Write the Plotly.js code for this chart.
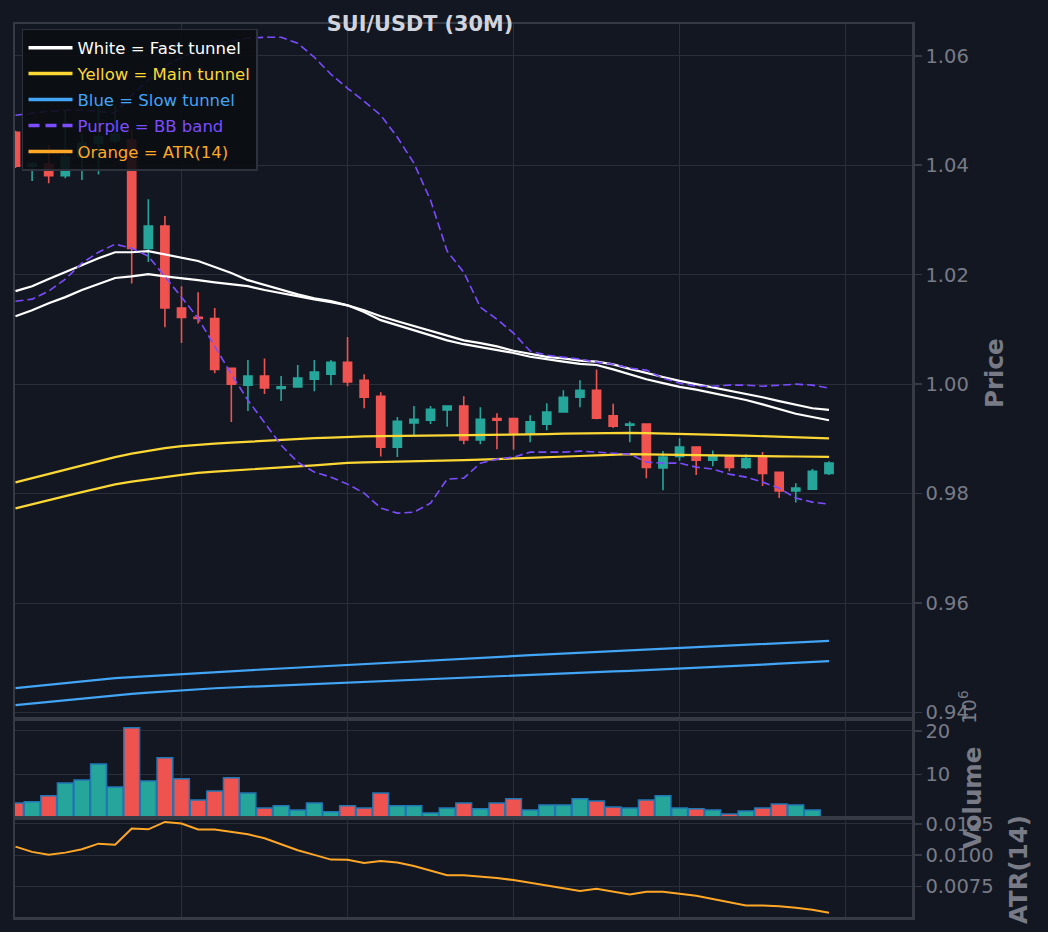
<!DOCTYPE html>
<html>
<head>
<meta charset="utf-8">
<script src="https://cdn.plot.ly/plotly-3.0.1.min.js"></script>
<style>
  html, body { margin: 0; padding: 0; background: #131722; }
  #chart { width: 1048px; height: 932px; }
</style>
</head>
<body>
<div id="chart"></div>
<script>
/* ---------------- data (30M candles) ---------------- */

var open  = [1.0460, 1.0398, 1.0402, 1.0381, 1.0415, 1.0440, 1.0445, 1.0446, 1.0248, 1.0289,
             1.0139, 1.0122, 1.0120, 1.0029, 0.9998, 1.0015, 0.9992, 0.9995, 1.0009, 1.0018,
             1.0040, 1.0007, 0.9978, 0.9885, 0.9929, 0.9934, 0.9953, 0.9960, 0.9898, 0.9937,
             0.9937, 0.9911, 0.9927, 0.9949, 0.9976, 0.9989, 0.9942, 0.9925, 0.9927, 0.9847,
             0.9868, 0.9885, 0.9861, 0.9868, 0.9848, 0.9867, 0.9839, 0.9805, 0.9808, 0.9837];
var high  = [1.0463, 1.0406, 1.0437, 1.0499, 1.0460, 1.0508, 1.0508, 1.0466, 1.0338, 1.0307,
             1.0179, 1.0168, 1.0139, 1.0030, 1.0044, 1.0047, 1.0015, 1.0035, 1.0044, 1.0044,
             1.0086, 1.0018, 0.9985, 0.9940, 0.9960, 0.9960, 0.9961, 0.9978, 0.9958, 0.9947,
             0.9938, 0.9943, 0.9965, 0.9989, 1.0007, 1.0027, 0.9964, 0.9932, 0.9927, 0.9878,
             0.9901, 0.9885, 0.9879, 0.9868, 0.9872, 0.9876, 0.9840, 0.9819, 0.9845, 0.9859];
var low   = [1.0395, 1.0371, 1.0367, 1.0376, 1.0373, 1.0383, 1.0440, 1.0184, 1.0223, 1.0104,
             1.0075, 1.0111, 1.0020, 0.9931, 0.9951, 0.9982, 0.9969, 0.9995, 0.9987, 0.9998,
             0.9996, 0.9956, 0.9868, 0.9867, 0.9907, 0.9927, 0.9922, 0.9890, 0.9890, 0.9881,
             0.9880, 0.9894, 0.9916, 0.9948, 0.9958, 0.9936, 0.9920, 0.9894, 0.9828, 0.9806,
             0.9860, 0.9834, 0.9850, 0.9841, 0.9845, 0.9814, 0.9792, 0.9784, 0.9808, 0.9834];
var close = [1.0398, 1.0403, 1.0381, 1.0415, 1.0440, 1.0452, 1.0457, 1.0248, 1.0289, 1.0139,
             1.0122, 1.0120, 1.0027, 1.0000, 1.0015, 0.9993, 0.9995, 1.0011, 1.0022, 1.0040,
             1.0004, 0.9976, 0.9885, 0.9932, 0.9936, 0.9954, 0.9960, 0.9898, 0.9936, 0.9934,
             0.9911, 0.9931, 0.9949, 0.9976, 0.9989, 0.9938, 0.9923, 0.9927, 0.9848, 0.9867,
             0.9885, 0.9861, 0.9868, 0.9848, 0.9864, 0.9837, 0.9805, 0.9810, 0.9841, 0.9856];

// volume in millions (axis carries the 1e6 offset)
var volume = [3.45, 3.7, 5.1, 8.0, 8.7, 12.4, 7.1, 20.7, 8.5, 13.8,
              9.0, 4.1, 6.2, 9.2, 5.7, 2.3, 2.8, 1.8, 3.45, 1.4,
              2.8, 2.3, 5.7, 2.8, 2.8, 1.15, 2.3, 3.45, 2.1, 3.45,
              4.4, 1.85, 3.0, 3.0, 4.4, 3.9, 2.5, 2.3, 4.1, 5.1,
              2.3, 2.1, 1.85, 0.9, 1.6, 2.3, 3.2, 3.0, 1.85, 0.2];

var atr14 = [0.01068, 0.01026, 0.01004, 0.01020, 0.01047, 0.01092, 0.01084, 0.01213, 0.01207, 0.01266,
             0.01253, 0.01205, 0.01205, 0.01186, 0.01167, 0.01135, 0.01090, 0.01039, 0.01002, 0.00964,
             0.00962, 0.00937, 0.00953, 0.00940, 0.00913, 0.00873, 0.00839, 0.00839, 0.00828, 0.00817,
             0.00800, 0.00777, 0.00755, 0.00731, 0.00712, 0.00731, 0.00710, 0.00685, 0.00707, 0.00707,
             0.00691, 0.00675, 0.00648, 0.00621, 0.00597, 0.00597, 0.00591, 0.00578, 0.00562, 0.00538];

// fast tunnel (white)
var fastA = [1.0170, 1.0179, 1.0192, 1.0205, 1.0217, 1.0230, 1.0241, 1.0241, 1.0243, 1.0237,
             1.0232, 1.0225, 1.0214, 1.0203, 1.0190, 1.0181, 1.0172, 1.0164, 1.0157, 1.0152,
             1.0144, 1.0132, 1.0117, 1.0108, 1.0099, 1.0089, 1.0080, 1.0073, 1.0068, 1.0062,
             1.0057, 1.0050, 1.0045, 1.0041, 1.0037, 1.0035, 1.0027, 1.0018, 1.0009, 1.0002,
             0.9995, 0.9990, 0.9984, 0.9977, 0.9971, 0.9963, 0.9954, 0.9946, 0.9940, 0.9934];
var fastB = [1.0124, 1.0135, 1.0148, 1.0159, 1.0172, 1.0183, 1.0194, 1.0197, 1.0201, 1.0197,
             1.0194, 1.0190, 1.0186, 1.0183, 1.0179, 1.0172, 1.0166, 1.0161, 1.0155, 1.0150,
             1.0144, 1.0135, 1.0124, 1.0115, 1.0106, 1.0097, 1.0088, 1.0080, 1.0075, 1.0069,
             1.0061, 1.0055, 1.0050, 1.0047, 1.0043, 1.0041, 1.0036, 1.0028, 1.0020, 1.0013,
             1.0006, 1.0000, 0.9995, 0.9989, 0.9983, 0.9976, 0.9969, 0.9962, 0.9956, 0.9953];

// main tunnel (yellow)
var mainA = [0.98205, 0.98283, 0.98356, 0.98438, 0.98511, 0.98594, 0.98667, 0.98731, 0.98785, 0.98831,
             0.98868, 0.98895, 0.98913, 0.98931, 0.98950, 0.98968, 0.98977, 0.98995, 0.99014, 0.99023,
             0.99037, 0.99047, 0.99050, 0.99054, 0.99058, 0.99059, 0.99061, 0.99063, 0.99063, 0.99065,
             0.99068, 0.99078, 0.99087, 0.99096, 0.99101, 0.99105, 0.99109, 0.99109, 0.99105, 0.99100,
             0.99092, 0.99085, 0.99078, 0.99068, 0.99059, 0.99050, 0.99039, 0.99028, 0.99017, 0.99008];
var mainB = [0.97730, 0.97808, 0.97881, 0.97954, 0.98027, 0.98100, 0.98168, 0.98219, 0.98265, 0.98301,
             0.98343, 0.98380, 0.98402, 0.98424, 0.98444, 0.98466, 0.98484, 0.98499, 0.98517, 0.98539,
             0.98563, 0.98570, 0.98575, 0.98583, 0.98590, 0.98597, 0.98605, 0.98612, 0.98621, 0.98630,
             0.98639, 0.98648, 0.98661, 0.98674, 0.98687, 0.98700, 0.98710, 0.98721, 0.98716, 0.98710,
             0.98705, 0.98700, 0.98696, 0.98692, 0.98689, 0.98685, 0.98681, 0.98678, 0.98674, 0.98672];

// slow tunnel (blue)
var slowA = [0.94447, 0.94478, 0.94508, 0.94539, 0.94570, 0.94599, 0.94630, 0.94648, 0.94667, 0.94685,
             0.94703, 0.94721, 0.94740, 0.94756, 0.94773, 0.94789, 0.94805, 0.94822, 0.94838, 0.94855,
             0.94871, 0.94888, 0.94904, 0.94921, 0.94937, 0.94953, 0.94970, 0.94986, 0.95003, 0.95019,
             0.95034, 0.95048, 0.95063, 0.95078, 0.95092, 0.95107, 0.95121, 0.95136, 0.95151, 0.95165,
             0.95180, 0.95194, 0.95209, 0.95224, 0.95238, 0.95253, 0.95268, 0.95282, 0.95297, 0.95311];
var slowB = [0.94137, 0.94168, 0.94197, 0.94228, 0.94259, 0.94289, 0.94320, 0.94342, 0.94363, 0.94385,
             0.94407, 0.94429, 0.94444, 0.94458, 0.94471, 0.94486, 0.94500, 0.94513, 0.94528, 0.94542,
             0.94557, 0.94570, 0.94581, 0.94594, 0.94606, 0.94617, 0.94630, 0.94643, 0.94654, 0.94667,
             0.94679, 0.94690, 0.94703, 0.94716, 0.94727, 0.94740, 0.94752, 0.94763, 0.94776, 0.94789,
             0.94800, 0.94813, 0.94829, 0.94844, 0.94860, 0.94877, 0.94893, 0.94908, 0.94924, 0.94941];

// bollinger band (purple)
var bbUpper = [1.04913, 1.04950, 1.04986, 1.05005, 1.05005, 1.04986, 1.04950, 1.05279, 1.05553, 1.05808,
               1.05973, 1.06101, 1.06192, 1.06265, 1.06320, 1.06338, 1.06338, 1.06228, 1.05973, 1.05662,
               1.05406, 1.05169, 1.04913, 1.04511, 1.04037, 1.03361, 1.02429, 1.02046, 1.01406, 1.01187,
               1.00932, 1.00603, 1.00530, 1.00493, 1.00457, 1.00402, 1.00365, 1.00292, 1.00256, 1.00110,
               1.00018, 0.99963, 0.99963, 0.99982, 0.99982, 0.99963, 0.99982, 1.00000, 0.99982, 0.99927];
var bbLower = [1.01516, 1.01553, 1.01699, 1.01918, 1.02210, 1.02411, 1.02557, 1.02484, 1.02338, 1.01973,
               1.01589, 1.01205, 1.00694, 1.00183, 0.99708, 0.99288, 0.98886, 0.98575, 0.98393, 0.98301,
               0.98174, 0.98009, 0.97735, 0.97644, 0.97662, 0.97826, 0.98265, 0.98283, 0.98557, 0.98630,
               0.98667, 0.98758, 0.98758, 0.98758, 0.98776, 0.98758, 0.98740, 0.98721, 0.98575, 0.98557,
               0.98557, 0.98484, 0.98447, 0.98356, 0.98301, 0.98210, 0.98100, 0.97918, 0.97845, 0.97808];

var priceTicks = [0.94, 0.96, 0.98, 1.00, 1.02, 1.04, 1.06];
var volumeTicks = [10, 20];
var atrTicks = [0.0075, 0.0100, 0.0125];

/* ---------------- styling ---------------- */

var BG = '#131722';
var GRID = '#2a2e39';
var FRAME = '#363a45';
var TICK = '#787b86';
var UP = '#26a69a';
var DOWN = '#ef5350';
var WHITE = '#ffffff';
var YELLOW = '#fdd835';
var BLUE = '#42a5f5';
var PURPLE = '#7c4dff';
var ORANGE = '#ffa726';
var FONT = 'DejaVu Sans, sans-serif';
var BB_DASH = '8px,4px';

var idx = close.map(function(_, i) { return i; });
var volColors = close.map(function(c, i) { return c >= open[i] ? UP : DOWN; });

function line(y, color, width, dash, axis) {
    return {
        x: idx,
        y: y,
        type: 'scatter',
        mode: 'lines',
        line: { color: color, width: width, dash: dash || 'solid' },
        showlegend: false,
        xaxis: axis ? 'x' + axis : 'x',
        yaxis: axis ? 'y' + axis : 'y',
        hoverinfo: 'skip'
    };
}

// legend rows: empty traces so the key lines can be drawn thicker than the plot lines
function key(name, color, group, dash) {
    return {
        x: [null],
        y: [null],
        type: 'scatter',
        mode: 'lines',
        line: { color: color, width: 3.5, dash: dash || 'solid' },
        name: '<span style="color:' + color + '">' + name + '</span>',
        legendgroup: group,
        showlegend: true,
        hoverinfo: 'skip'
    };
}

var candles = {
    type: 'candlestick',
    name: 'SUI/USDT',
    x: idx,
    open: open,
    high: high,
    low: low,
    close: close,
    increasing: { line: { color: UP, width: 1.6 }, fillcolor: UP },
    decreasing: { line: { color: DOWN, width: 1.6 }, fillcolor: DOWN },
    whiskerwidth: 0,
    showlegend: false,
    hoverinfo: 'skip',
    xaxis: 'x',
    yaxis: 'y'
};

var volumeBars = {
    type: 'bar',
    name: 'Volume',
    x: idx,
    y: volume,
    width: 0.95,
    marker: { color: volColors, line: { color: '#1f77b4', width: 1.5 } },
    showlegend: false,
    hoverinfo: 'skip',
    xaxis: 'x2',
    yaxis: 'y2'
};

var data = [
    candles,
    line(fastA, WHITE, 2.2),
    line(fastB, WHITE, 2.2),
    line(mainA, YELLOW, 2.2),
    line(mainB, YELLOW, 2.2),
    line(slowA, BLUE, 2.2),
    line(slowB, BLUE, 2.2),
    line(bbUpper, PURPLE, 1.6, BB_DASH),
    line(bbLower, PURPLE, 1.6, BB_DASH),
    volumeBars,
    line(atr14, ORANGE, 2, null, 3),
    key('White = Fast tunnel', WHITE, 'fast'),
    key('Yellow = Main tunnel', YELLOW, 'main'),
    key('Blue = Slow tunnel', BLUE, 'slow'),
    key('Purple = BB band', PURPLE, 'bb', '11px,6px'),
    key('Orange = ATR(14)', ORANGE, 'atr')
];

function xAxis(anchor) {
    return {
        anchor: anchor,
        matches: anchor === 'y' ? undefined : 'x',
        range: [-0.03, 54.0],
        tickvals: [0, 10, 20, 30, 40, 50],
        showticklabels: false,
        ticks: '',
        showgrid: true,
        gridcolor: GRID,
        gridwidth: 1,
        zeroline: false,
        showline: true,
        mirror: true,
        linecolor: FRAME,
        linewidth: 2.5,
        rangeslider: { visible: false },
        fixedrange: true
    };
}

function yAxis(anchor, domain, range, ticks, fmt) {
    return {
        anchor: anchor,
        domain: domain,
        range: range,
        side: 'right',
        tickvals: ticks,
        tickformat: fmt,
        ticks: 'outside',
        ticklen: 7,
        tickwidth: 1.5,
        tickcolor: FRAME,
        tickfont: { family: FONT, size: 19.5, color: TICK },
        showgrid: true,
        gridcolor: GRID,
        gridwidth: 1,
        zeroline: false,
        showline: true,
        mirror: true,
        linecolor: FRAME,
        linewidth: 2.5,
        fixedrange: true
    };
}

function sideLabel(text, x, y, size, bold) {
    return {
        xref: 'paper', yref: 'paper',
        x: x, y: y,
        xanchor: 'center', yanchor: 'middle',
        text: bold ? '<b>' + text + '</b>' : text,
        textangle: -90,
        showarrow: false,
        font: { family: FONT, size: size, color: TICK }
    };
}

var layout = {
    width: 1048,
    height: 932,
    paper_bgcolor: BG,
    plot_bgcolor: BG,
    margin: { l: 15, r: 136, t: 24, b: 15 },
    font: { family: FONT, color: TICK },
    title: {
        text: '<b>SUI/USDT (30M)</b>',
        x: 0.4008,
        xanchor: 'center',
        y: 0.9748,
        yanchor: 'middle',
        font: { family: FONT, size: 20.8, color: '#d1d4dc' }
    },
    showlegend: true,
    legend: {
        x: 0.0078,
        y: 0.9945,
        xanchor: 'left',
        yanchor: 'top',
        bgcolor: 'rgba(11,13,18,0.9)',
        bordercolor: '#2e323d',
        borderwidth: 1.5,
        font: { family: FONT, size: 16.5 },
        itemwidth: 44,
        traceorder: 'grouped',
        tracegroupgap: 1.5
    },
    xaxis: xAxis('y'),
    xaxis2: xAxis('y2'),
    xaxis3: xAxis('y3'),
    yaxis: yAxis('x', [0.2228, 1], [0.9390, 1.0658], priceTicks, '.2f'),
    yaxis2: yAxis('x2', [0.1109, 0.2217], [0, 22.7], volumeTicks, 'd'),
    yaxis3: yAxis('x3', [0, 0.1098], [0.00504, 0.01290], atrTicks, '.4f'),
    annotations: [
        sideLabel('Price', 1.0925, 0.6092, 24.5, true),
        sideLabel('Volume', 1.068, 0.1333, 24.5, true),
        sideLabel('10<sup>6</sup>', 1.0624, 0.2352, 19.5, false),
        sideLabel('ATR(14)', 1.1182, 0.0526, 24.5, true)
    ]
};

Plotly.newPlot('chart', data, layout, { staticPlot: true, displayModeBar: false });
</script>
</body>
</html>
